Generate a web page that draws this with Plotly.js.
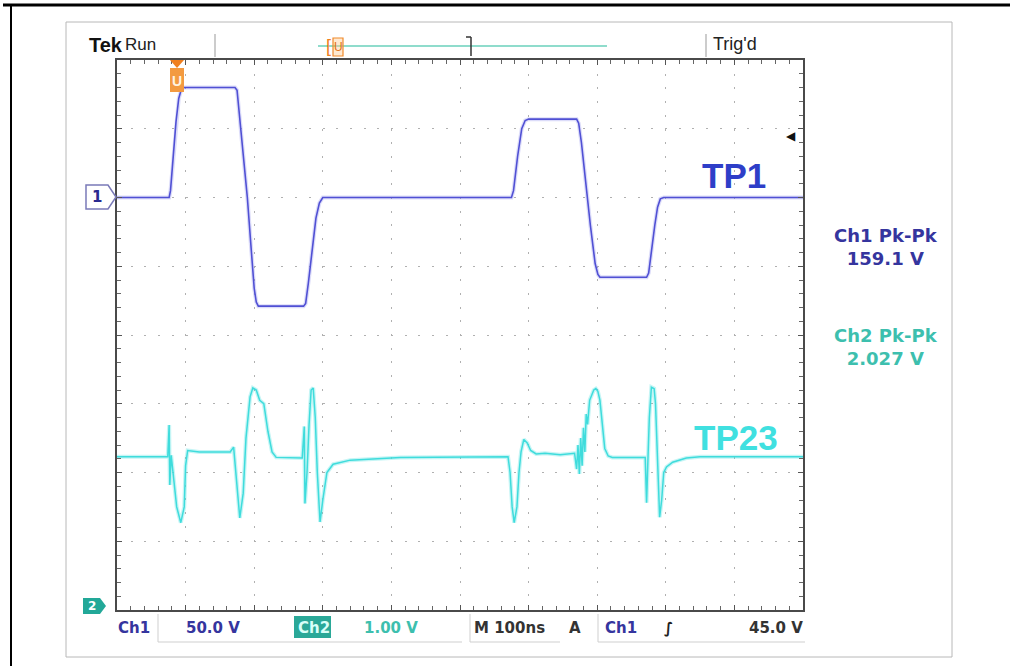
<!DOCTYPE html>
<html><head><meta charset="utf-8">
<script src="https://cdn.plot.ly/plotly-3.0.1.min.js"></script>
<style>html,body{margin:0;padding:0;background:#fff}#chart{width:1010px;height:666px}</style>
</head><body><div id="chart"></div>
<script>
// ---- data (time in ns, Ch1 in V at 50 V/div, Ch2 in V at 1 V/div) ----
const timeCh1 = [0,76,78,82,86,90,94,98,172,175,178,184,190,196,200,203,206,272,275,279,284,290,295,300,575,578,584,590,595,600,670,673,677,684,690,697,701,704,772,775,779,784,788,792,797,1000];
const voltsCh1 = [0,0,5,30,55,72,79,80,80,78,62,30,0,-40,-66,-76,-79,-79,-77,-62,-40,-15,-4,0,0,5,30,50,56,57,57,54,40,5,-20,-48,-56,-58,-58,-55,-38,-20,-7,-1,0,0];
const timeCh2 = [0,74,76,77,79,82,87,93,98,100,103,120,
  165,170,173,176,179,184,188,194,198,203,208,214,220,226,232,
  270,273,274,277,280,283,286,289,292,296,300,306,315,340,413,
  570,573,576,579,583,586,589,593,598,603,611,624,646,667,
  670,672,674,676,678,680,682,684,686,689,692,695,698,701,704,707,711,716,722,
  770,772,774,776,779,783,785,788,791,794,797,801,810,830,850,1000];
const voltsCh2 = [-1.77,-1.77,-1.31,-2.18,-1.75,-2.0,-2.5,-2.73,-2.5,-1.9,-1.68,-1.70,
  -1.70,-1.63,-2.0,-2.4,-2.66,-2.3,-1.5,-0.9,-0.77,-0.8,-0.95,-1.0,-1.4,-1.7,-1.78,
  -1.79,-1.33,-2.45,-2.0,-1.3,-0.8,-0.77,-1.2,-2.0,-2.72,-2.4,-2.0,-1.88,-1.82,-1.78,
  -1.77,-2.0,-2.5,-2.73,-2.5,-2.0,-1.7,-1.52,-1.57,-1.68,-1.73,-1.72,-1.74,-1.72,
  -1.95,-1.6,-2.02,-1.5,-1.9,-1.35,-1.7,-1.15,-1.3,-0.95,-0.88,-0.8,-0.78,-0.82,-0.95,-1.3,-1.65,-1.76,-1.78,
  -1.78,-2.44,-1.8,-1.2,-0.76,-0.78,-1.0,-2.0,-2.65,-2.4,-2.0,-1.92,-1.85,-1.79,-1.77,-1.77];
const traceNames = ['TP1','TP23'];
const measLabels = ['Ch1 Pk-Pk','Ch2 Pk-Pk'];
const measValues = ['159.1 V','2.027 V'];
const triggerLevel = 45;      // V on Ch1
const triggerTime = 87;       // ns
const statusCh1 = ['Ch1','50.0 V'];
const statusCh2 = ['Ch2','1.00 V'];
const statusTime = 'M 100ns';
const statusTrig = ['A','Ch1','\u222B','45.0 V'];

// ---- layout helpers ----
const L = 117, R = 803, T = 60, B = 610;
const W = 1010, H = 666;
const px = x => (x - L) / (R - L);
const py = y => (B - y) / (B - T);

const ch1Col = '#5050d4', ch2Col = '#3fdcdc';
const blueTxt = '#35359e', tealTxt = '#3dbfae';

const traces = [
  {x: timeCh1, y: voltsCh1, mode:'lines', line:{color:'rgba(140,140,235,0.3)', width:4}, hoverinfo:'skip', showlegend:false},
  {x: timeCh1, y: voltsCh1, mode:'lines', name: traceNames[0], line:{color:ch1Col, width:1.6}, showlegend:false},
  {x: timeCh2, y: voltsCh2, yaxis:'y2', mode:'lines', line:{color:'rgba(64,222,222,0.3)', width:4}, hoverinfo:'skip', showlegend:false},
  {x: timeCh2, y: voltsCh2, yaxis:'y2', mode:'lines', name: traceNames[1], line:{color:ch2Col, width:1.5}, showlegend:false}
];

function txt(x, y, text, size, color, opts) {
  return Object.assign({xref:'paper', yref:'paper', x:px(x), y:py(y), text:text, showarrow:false,
    xanchor:'left', yanchor:'middle', font:{family:'DejaVu Sans, sans-serif', size:size, color:color}}, opts||{});
}
function line(x0,y0,x1,y1,color,width) {
  return {type:'line', xref:'paper', yref:'paper', x0:px(x0), y0:py(y0), x1:px(x1), y1:py(y1), line:{color:color, width:width}};
}
function rect(x0,y0,x1,y1,lc,lw,fill) {
  return {type:'rect', xref:'paper', yref:'paper', x0:px(x0), y0:py(y0), x1:px(x1), y1:py(y1), line:{color:lc, width:lw}, fillcolor:fill||'rgba(0,0,0,0)'};
}
function path(pts, lc, lw, fill) {
  const d = pts.map((p,i)=>(i?'L':'M')+px(p[0]).toFixed(5)+','+py(p[1]).toFixed(5)).join(' ')+' Z';
  return {type:'path', xref:'paper', yref:'paper', path:d, line:{color:lc, width:lw}, fillcolor:fill||'rgba(0,0,0,0)'};
}

const shapes = [
  line(3, 5, 1010, 5, '#000', 3),
  line(11, 5, 11, 666, '#000', 2),
  rect(66, 22, 952, 657, '#b8b8b8', 1),
  line(215, 34, 215, 57, '#999', 1),
  line(318, 46, 607, 46, '#8fdccc', 2),
  line(471, 37, 471, 56, '#333', 1.5),
  line(466, 37, 471, 37, '#333', 1.5),
  line(706, 34, 706, 57, '#999', 1),
  // status bar boxes
  line(158, 614, 158, 642, '#cfcfcf', 1), line(158, 642, 462, 642, '#cfcfcf', 1),
  line(470, 614, 470, 642, '#cfcfcf', 1), line(470, 642, 560, 642, '#cfcfcf', 1),
  line(598, 614, 598, 642, '#cfcfcf', 1), line(598, 642, 805, 642, '#cfcfcf', 1),
  rect(294, 616, 331, 638, '#2aa898', 0, '#2aa898'),
  // channel 1 marker
  path([[86,185],[108,185],[116,197],[108,209],[86,209]], '#7a7ab8', 1.5, '#fff'),
  // channel 2 marker
  path([[83,598],[100,598],[106,606],[100,614],[83,614]], '#1f9a8c', 0, '#22a898'),
  // trigger position marker (header)
  rect(333, 38, 343, 56, '#f08a2a', 1.2, 'rgba(255,200,140,0.4)'),
  // trigger position marker (graticule top)
  path([[170,60],[184,60],[177,68]], '#f08020', 0, '#f08020'),
  rect(170, 68, 184, 92, '#f08020', 0, '#f39a40')
];

const annotations = [
  txt(87, 45, '<b>Tek</b>', 20, '#111', {font:{family:'Liberation Sans, Arial, sans-serif', size:20, color:'#111'}}),
  txt(123, 44, 'Run', 17, '#222', {font:{family:'Liberation Sans, Arial, sans-serif', size:17, color:'#222'}}),
  txt(324, 46, '[', 18, '#f08020', {font:{family:'Liberation Sans, Arial, sans-serif', size:18, color:'#f08020'}}),
  txt(338, 47, 'U', 12, '#f08020', {xanchor:'center', font:{family:'Liberation Sans, Arial, sans-serif', size:12, color:'#e07010'}}),
  txt(711, 44, "Trig'd", 18, '#222', {font:{family:'Liberation Sans, Arial, sans-serif', size:18, color:'#222'}}),
  txt(177, 81, '<b>U</b>', 14, '#fff', {xanchor:'center', font:{family:'Liberation Sans, Arial, sans-serif', size:14, color:'#fff3e0'}}),
  txt(97, 197, '<b>1</b>', 15, '#2a2a90', {xanchor:'center'}),
  txt(92, 606, '<b>2</b>', 12, '#fff', {xanchor:'center'}),
  {xref:'x', yref:'y', x:982, y:triggerLevel, text:'\u25C0', showarrow:false, xanchor:'center', yanchor:'middle', font:{size:12, color:'#111'}},
  {xref:'x', yref:'paper', x:triggerTime, y:py(58), text:'', showarrow:false},
  txt(734, 175, '<b>'+traceNames[0]+'</b>', 34, '#2e3ec8', {xanchor:'center', font:{family:'Liberation Sans, Arial, sans-serif', size:35, color:'#2e3ec8'}}),
  txt(736, 437, '<b>'+traceNames[1]+'</b>', 34, '#40e0e0', {xanchor:'center', font:{family:'Liberation Sans, Arial, sans-serif', size:35, color:'#40e0e0'}}),
  txt(886, 247, '<b>'+measLabels[0]+'<br>'+measValues[0]+'</b>', 18, blueTxt, {xanchor:'center', align:'center'}),
  txt(886, 347, '<b>'+measLabels[1]+'<br>'+measValues[1]+'</b>', 18, tealTxt, {xanchor:'center', align:'center'}),
  // status bar
  txt(116, 628, '<b>'+statusCh1[0]+'</b>', 15, blueTxt),
  txt(184, 628, '<b>'+statusCh1[1]+'</b>', 15, blueTxt),
  txt(296, 628, '<b>'+statusCh2[0]+'</b>', 15, '#d8fff8'),
  txt(362, 628, '<b>'+statusCh2[1]+'</b>', 15, tealTxt),
  txt(472, 628, '<b>'+statusTime+'</b>', 15, '#333'),
  txt(567, 628, '<b>'+statusTrig[0]+'</b>', 15, '#333'),
  txt(603, 628, '<b>'+statusTrig[1]+'</b>', 15, blueTxt),
  txt(662, 628, '<b>'+statusTrig[2]+'</b>', 15, '#222'),
  txt(747, 628, '<b>'+statusTrig[3]+'</b>', 15, '#333')
];

const axCommon = {showticklabels:false, zeroline:false, showline:true, linecolor:'#4a4a4a', linewidth:2,
  mirror:'ticks', ticks:'inside', ticklen:5, tickcolor:'#555', tickwidth:1,
  showgrid:true, gridcolor:'#b0b0b0', gridwidth:1, griddash:'2px,11.7px', fixedrange:true};

const layout = {
  width: W, height: H,
  margin: {l:L, r:W-R, t:T, b:H-B, pad:0},
  paper_bgcolor:'#fff', plot_bgcolor:'#fff',
  showlegend:false,
  xaxis: Object.assign({}, axCommon, {range:[0,1000], dtick:100, tick0:0,
    minor:{dtick:20, ticks:'inside', ticklen:4, tickcolor:'#666', showgrid:false}}),
  yaxis: Object.assign({}, axCommon, {range:[-300,100], dtick:50, tick0:0,
    minor:{dtick:10, ticks:'inside', ticklen:4, tickcolor:'#666', showgrid:false}}),
  yaxis2: {overlaying:'y', range:[-4,4], visible:false, fixedrange:true},
  shapes: shapes,
  annotations: annotations
};

Plotly.newPlot('chart', traces, layout, {staticPlot:true, displayModeBar:false});
</script>
</body></html>
